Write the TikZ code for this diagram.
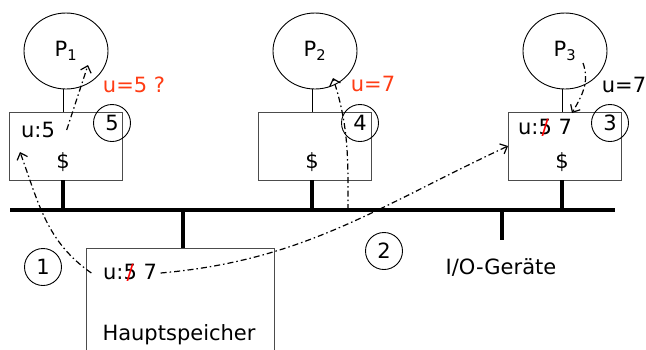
\documentclass[tikz,border=0pt]{standalone}
\usepackage{fontspec}
\setmainfont{DejaVu Sans}
\usepackage{tikz}
\usetikzlibrary{positioning, shapes.geometric, arrows.meta}
\definecolor{notered}{RGB}{255, 60, 20}
\newcommand{\redout}[1]{\ooalign{#1\cr\hidewidth\textcolor{red}{/}\hidewidth\cr}}

\begin{document}
\begin{tikzpicture}[x=1pt, y=1pt, line width=0.9pt,
  every node/.style={font=\fontsize{21}{25}\selectfont},
  proc/.style={draw, ellipse, minimum width=84pt, minimum height=76pt, inner sep=0pt},
  cache/.style={draw=black!70, minimum width=113pt, minimum height=68pt, inner sep=0pt},
  stepnr/.style={draw, circle, minimum size=37pt, inner sep=0pt},
  bus/.style={line width=4pt},
  msg/.style={line width=1.2pt, dash pattern=on 6pt off 3pt on 1.5pt off 3pt,
              -{Straight Barb[length=6pt, width=11pt]}}]
  \useasboundingbox (0,0) rectangle (646,-349);

  \coordinate (busL) at (10,-210);
  \coordinate (busR) at (615,-210);
  \draw[bus] (busL) -- (busR);

  \foreach \i/\x in {1/66, 2/315, 3/565} {
    \node[proc] (p\i) at (\x,-51) {P\textsubscript{\i}};
    \node[cache] (c\i) at (\x,-146) {};
    \node (d\i) at (\x-3,-162) {\$};
    \coordinate (t\i) at ([xshift=-3pt]c\i.south);
    \draw ([xshift=-3pt]p\i.south) -- ([xshift=-3pt]c\i.north);
    \draw[bus] (t\i) -- (t\i |- busL);
  }

  \node[cache, minimum width=188pt, minimum height=120pt, anchor=north] (mem) at (180,-248) {};
  \node (m5) at (130,-273) {u:\redout{5} 7};
  \node (mlabel) at (179,-335) {Hauptspeicher};
  \coordinate (mtop) at ([xshift=3pt]mem.north);
  \draw[bus] (mtop |- busL) -- (mtop);

  \node (io) at (501,-268) {I/O-Geräte};
  \coordinate (iotop) at (502,-240);
  \draw[bus] (iotop |- busL) -- (iotop);

  \node (u1) at (38,-130) {u:5};
  \node (u3) at (545,-128) {u:\redout{5} 7};

  \foreach \n/\x/\y in {1/43/267, 2/384/251, 3/610/123, 4/360/123, 5/112/123}
    \node[stepnr] (s\n) at (\x,-\y) {\n};

  \node[text=notered] (v1) at (134,-85) {u=5 ?};
  \node[text=notered] (v2) at (373,-84) {u=7};
  \node (v3) at (624,-85) {u=7};

  \coordinate (h1) at (20,-152);
  \coordinate (h2) at (88,-65);
  \coordinate (b4) at (348,-210);
  \coordinate (h4) at (333,-78);
  \coordinate (q5) at (583,-63);
  \coordinate (h5) at (572,-113);

  \draw[msg] ([xshift=-8pt]m5.west) to[out=145, in=-70] (h1);
  \draw[msg] (m5.east) to[out=5, in=205] (c3.west);
  \draw[msg] ([xshift=8pt]u1.east) -- (h2);
  \draw[msg] (b4) to[out=90, in=-72] (h4);
  \draw[msg] (q5) to[out=-70, in=60] (h5);
\end{tikzpicture}
\end{document}
